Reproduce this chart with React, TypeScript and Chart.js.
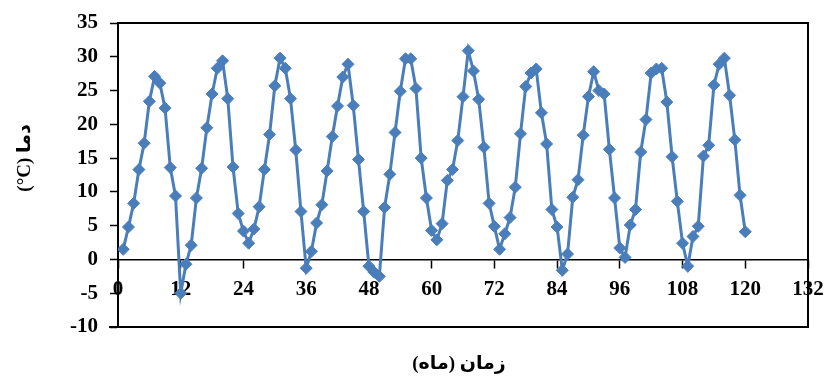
import { useEffect, useRef } from 'react';
import { Chart, registerables } from 'chart.js';

Chart.register(...registerables);

const months = [
  1, 2, 3, 4, 5, 6, 7, 8, 9, 10, 11, 12,
  13, 14, 15, 16, 17, 18, 19, 20, 21, 22, 23, 24,
  25, 26, 27, 28, 29, 30, 31, 32, 33, 34, 35, 36,
  37, 38, 39, 40, 41, 42, 43, 44, 45, 46, 47, 48,
  49, 50, 51, 52, 53, 54, 55, 56, 57, 58, 59, 60,
  61, 62, 63, 64, 65, 66, 67, 68, 69, 70, 71, 72,
  73, 74, 75, 76, 77, 78, 79, 80, 81, 82, 83, 84,
  85, 86, 87, 88, 89, 90, 91, 92, 93, 94, 95, 96,
  97, 98, 99, 100, 101, 102, 103, 104, 105, 106, 107, 108,
  109, 110, 111, 112, 113, 114, 115, 116, 117, 118, 119, 120,
];

const temperature = [
  1.5, 4.8, 8.3, 13.3, 17.2, 23.4, 27.1, 26.1, 22.4, 13.6, 9.4, -5.0,
  -0.7, 2.1, 9.1, 13.5, 19.5, 24.5, 28.3, 29.4, 23.8, 13.7, 6.8, 4.2,
  2.4, 4.5, 7.8, 13.3, 18.5, 25.7, 29.8, 28.3, 23.8, 16.2, 7.1, -1.3,
  1.2, 5.4, 8.1, 13.1, 18.2, 22.7, 27.0, 28.9, 22.8, 14.8, 7.1, -1.0,
  -1.9, -2.5, 7.7, 12.6, 18.8, 24.9, 29.7, 29.7, 25.3, 15.0, 9.1, 4.3,
  2.9, 5.3, 11.7, 13.3, 17.6, 24.1, 30.9, 27.9, 23.7, 16.6, 8.3, 4.9,
  1.5, 3.8, 6.2, 10.7, 18.6, 25.6, 27.6, 28.2, 21.7, 17.1, 7.4, 4.8,
  -1.6, 0.8, 9.2, 11.8, 18.4, 24.1, 27.8, 25.0, 24.5, 16.3, 9.1, 1.7,
  0.3, 5.1, 7.4, 15.9, 20.7, 27.6, 28.2, 28.3, 23.3, 15.2, 8.6, 2.4,
  -1.0, 3.4, 4.9, 15.3, 16.9, 25.8, 28.9, 29.8, 24.3, 17.7, 9.5, 4.1,
];

const xTicks = [0, 12, 24, 36, 48, 60, 72, 84, 96, 108, 120, 132];
const yTicks = [-10, -5, 0, 5, 10, 15, 20, 25, 30, 35];

const yTitle = '(°C) دما';
const xTitle = 'زمان (ماه)';

const SERIES_COLOR = '#4A7EBB';
const TICK_FONT = { family: "'Liberation Serif', 'Times New Roman', serif", size: 21, weight: 'bold' as const };
const TITLE_FONT = "bold 19px 'Liberation Serif', 'DejaVu Sans', serif";

export default function App() {
  const ref = useRef<HTMLCanvasElement>(null);

  useEffect(() => {
    document.body.style.margin = '0';
    const canvas = ref.current;
    if (!canvas) return;

    const framePlugin = {
      id: 'plotFrame',
      beforeDatasetsDraw(chart: any) {
        const { ctx, chartArea } = chart;
        const { left, right, top, bottom } = chartArea;
        ctx.save();
        ctx.strokeStyle = '#000';
        ctx.lineWidth = 2;
        ctx.beginPath();
        ctx.moveTo(left, top);
        ctx.lineTo(right, top);
        ctx.lineTo(right, bottom);
        ctx.lineTo(left - 9, bottom);
        ctx.stroke();
        ctx.restore();
      },
    };

    const titlePlugin = {
      id: 'axisTitles',
      afterDraw(chart: any) {
        const { ctx, chartArea } = chart;
        ctx.save();
        ctx.fillStyle = '#000';
        ctx.font = TITLE_FONT;
        ctx.textAlign = 'center';
        ctx.textBaseline = 'middle';
        (ctx as any).direction = 'rtl';
        ctx.fillText(xTitle, (chartArea.left + chartArea.right) / 2 - 4, 364);
        (ctx as any).direction = 'ltr';
        ctx.translate(25, 158);
        ctx.rotate(-Math.PI / 2);
        ctx.fillText(yTitle, 0, 0);
        ctx.restore();
      },
    };

    const chart = new Chart(canvas, {
      type: 'line',
      data: {
        datasets: [
          {
            data: months.map((m, i) => ({ x: m, y: temperature[i] })),
            borderColor: SERIES_COLOR,
            backgroundColor: SERIES_COLOR,
            borderWidth: 3,
            pointStyle: 'rectRot',
            pointRadius: 6,
            pointBorderWidth: 1,
            pointBackgroundColor: SERIES_COLOR,
            pointBorderColor: SERIES_COLOR,
            tension: 0,
          },
        ],
      },
      options: {
        responsive: false,
        animation: false,
        layout: { padding: { left: 0, top: 23, right: 19, bottom: 51 } },
        plugins: { legend: { display: false }, tooltip: { enabled: false } },
        scales: {
          x: {
            type: 'linear',
            position: { y: 0 } as any,
            min: 0,
            max: 132,
            afterBuildTicks: (s: any) => {
              s.ticks = xTicks.map((v) => ({ value: v }));
            },
            ticks: { font: TICK_FONT, color: '#000', padding: 10, maxRotation: 0, autoSkip: false },
            grid: { drawOnChartArea: false, drawTicks: true, tickLength: 8, tickColor: '#000', tickWidth: 1.5 },
            border: { display: true, color: '#000', width: 1.5 },
            afterFit: (s: any) => {
              s.paddingLeft = 0;
              s.paddingRight = 0;
              s.paddingTop = 0;
              s.paddingBottom = 0;
            },
          },
          y: {
            type: 'linear',
            min: -10,
            max: 35,
            afterBuildTicks: (s: any) => {
              s.ticks = yTicks.map((v) => ({ value: v }));
            },
            ticks: { font: TICK_FONT, color: '#000', padding: 12, autoSkip: false },
            grid: { drawOnChartArea: false, drawTicks: true, tickLength: 8, tickColor: '#000', tickWidth: 1.5 },
            border: { display: true, color: '#000', width: 2 },
            afterFit: (s: any) => {
              s.width = 118;
              s.paddingTop = 0;
              s.paddingBottom = 0;
            },
          },
        },
      },
      plugins: [framePlugin, titlePlugin],
    });

    return () => chart.destroy();
  }, []);

  return <canvas ref={ref} width={827} height={378} style={{ display: 'block' }} />;
}
